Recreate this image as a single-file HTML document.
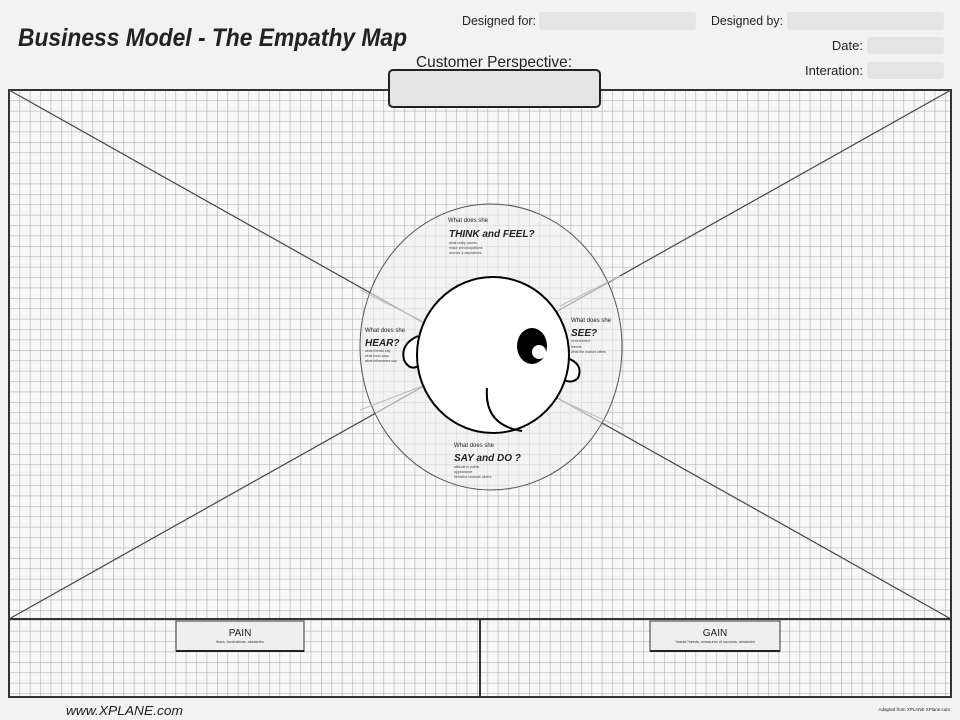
<!DOCTYPE html>
<html><head><meta charset="utf-8"><style>
html,body{margin:0;padding:0;background:#f2f2f2;}
svg{display:block;}
</style></head><body>
<svg width="960" height="720" viewBox="0 0 960 720" xmlns="http://www.w3.org/2000/svg" font-family="Liberation Sans, sans-serif">
<defs>
<pattern id="g" x="9" y="90" width="10.4" height="10.4" patternUnits="userSpaceOnUse">
<rect width="10.4" height="10.4" fill="#f8f8f8"/>
<path d="M0 0H10.4M0 0V10.4" stroke="#b4b4b4" stroke-width="1.3"/>
</pattern>
</defs>
<rect width="960" height="720" fill="#f2f2f2"/>
<text x="18" y="46" font-size="25" font-weight="bold" font-style="italic" fill="#222" textLength="389" lengthAdjust="spacingAndGlyphs">Business Model - The Empathy Map</text>
<text x="536" y="25" font-size="13" text-anchor="end" fill="#222" textLength="74" lengthAdjust="spacingAndGlyphs">Designed for:</text>
<rect x="539" y="12" width="157" height="18" rx="3" fill="#e4e4e4"/>
<text x="783" y="25" font-size="13" text-anchor="end" fill="#222" textLength="72" lengthAdjust="spacingAndGlyphs">Designed by:</text>
<rect x="787" y="12" width="157" height="18" rx="3" fill="#e4e4e4"/>
<text x="863" y="50" font-size="13" text-anchor="end" fill="#222">Date:</text>
<rect x="867" y="37" width="77" height="17" rx="3" fill="#e4e4e4"/>
<text x="863" y="75" font-size="13" text-anchor="end" fill="#222" textLength="58" lengthAdjust="spacingAndGlyphs">Interation:</text>
<rect x="867" y="62" width="77" height="17" rx="3" fill="#e4e4e4"/>
<text x="494" y="67" font-size="16" text-anchor="middle" fill="#222" textLength="156" lengthAdjust="spacingAndGlyphs">Customer Perspective:</text>

<rect x="9" y="90" width="942" height="607" fill="url(#g)" stroke="#333" stroke-width="2"/>
<line x1="9" y1="90" x2="951" y2="619" stroke="#444" stroke-width="1.2"/>
<line x1="951" y1="90" x2="9" y2="619" stroke="#444" stroke-width="1.2"/>
<line x1="9" y1="619" x2="951" y2="619" stroke="#333" stroke-width="2"/>
<line x1="480" y1="619" x2="480" y2="697" stroke="#333" stroke-width="2"/>

<rect x="389" y="70" width="211" height="37" rx="4" fill="#e4e4e4" stroke="#222" stroke-width="2"/>

<ellipse cx="491" cy="347" rx="131" ry="143" fill="#f0f0f0" fill-opacity="0.6" stroke="#555" stroke-width="1"/>
<line x1="360" y1="290" x2="420" y2="320" stroke="#bbb"/>
<line x1="560" y1="306" x2="620" y2="276" stroke="#bbb"/>
<line x1="360" y1="410" x2="425" y2="385" stroke="#bbb"/>
<line x1="560" y1="400" x2="622" y2="428" stroke="#bbb"/>
<path d="M418 336 Q400 344 404 360 Q410 372 420 365" fill="#fff" stroke="#000" stroke-width="2"/>
<path d="M567 358 Q584 364 578 378 Q572 384 564 380" fill="#fff" stroke="#000" stroke-width="2"/>
<ellipse cx="493" cy="355" rx="76" ry="78" fill="#fff" stroke="#000" stroke-width="2"/>
<ellipse cx="532" cy="346" rx="15" ry="18" fill="#000"/>
<circle cx="539" cy="352" r="7" fill="#fff"/>
<path d="M487 388 Q484 425 522 431" fill="none" stroke="#000" stroke-width="2"/>

<text x="448" y="222" font-size="6" fill="#222">What does she</text>
<text x="449" y="237" font-size="10" font-weight="bold" font-style="italic" fill="#222">THINK and FEEL?</text>
<text x="449" y="244" font-size="3.5" fill="#444">what really counts</text>
<text x="449" y="249" font-size="3.5" fill="#444">major preoccupations</text>
<text x="449" y="254" font-size="3.5" fill="#444">worries &amp; aspirations</text>
<text x="365" y="332" font-size="6" fill="#222">What does she</text>
<text x="365" y="346" font-size="10" font-weight="bold" font-style="italic" fill="#222">HEAR?</text>
<text x="365" y="352" font-size="3.5" fill="#444">what friends say</text>
<text x="365" y="357" font-size="3.5" fill="#444">what boss says</text>
<text x="365" y="362" font-size="3.5" fill="#444">what influencers say</text>
<text x="571" y="322" font-size="6" fill="#222">What does she</text>
<text x="571" y="336" font-size="10" font-weight="bold" font-style="italic" fill="#222">SEE?</text>
<text x="571" y="342" font-size="3.5" fill="#444">environment</text>
<text x="571" y="348" font-size="3.5" fill="#444">friends</text>
<text x="571" y="353" font-size="3.5" fill="#444">what the market offers</text>
<text x="454" y="447" font-size="6" fill="#222">What does she</text>
<text x="454" y="461" font-size="10" font-weight="bold" font-style="italic" fill="#222">SAY and DO ?</text>
<text x="454" y="468" font-size="3.5" fill="#444">attitude in public</text>
<text x="454" y="473" font-size="3.5" fill="#444">appearance</text>
<text x="454" y="478" font-size="3.5" fill="#444">behavior towards others</text>

<rect x="176" y="621" width="128" height="30" fill="#efefef" stroke="#333" stroke-width="1"/>
<line x1="176" y1="651" x2="304" y2="651" stroke="#222" stroke-width="2"/>
<text x="240" y="636" font-size="10" text-anchor="middle" fill="#222">PAIN</text>
<text x="240" y="643" font-size="3.8" text-anchor="middle" fill="#333">fears, frustrations, obstacles</text>
<rect x="650" y="621" width="130" height="30" fill="#efefef" stroke="#333" stroke-width="1"/>
<line x1="650" y1="651" x2="780" y2="651" stroke="#222" stroke-width="2"/>
<text x="715" y="636" font-size="10" text-anchor="middle" fill="#222">GAIN</text>
<text x="715" y="643" font-size="3.8" text-anchor="middle" fill="#333">"wants"/needs, measures of success, obstacles</text>

<text x="66" y="715" font-size="13" font-style="italic" fill="#222" textLength="117" lengthAdjust="spacingAndGlyphs">www.XPLANE.com</text>
<text x="950" y="711" font-size="4.5" text-anchor="end" fill="#222">Adapted from XPLANE XPlane.com</text>
</svg>
</body></html>
